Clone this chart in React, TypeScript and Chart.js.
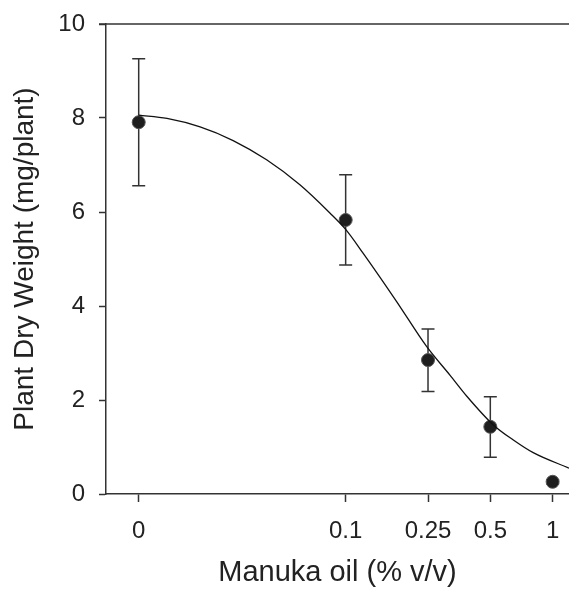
import React, { useEffect, useRef } from "react";
import { Chart, registerables } from "chart.js";

Chart.register(...registerables);

// Tick positions on the log axis ("0" is drawn at 0.01) and their labels
const xTickValues = [0.01, 0.1, 0.25, 0.5, 1];
const xTickLabels = ["0", "0.1", "0.25", "0.5", "1"];

// Measured points (Manuka oil dose, mean dry weight, error bar ends)
const doseX = [0.01, 0.1, 0.25, 0.5, 1];
const meanWeight = [7.91, 5.83, 2.85, 1.43, 0.26];
const errUpper = [9.26, 6.79, 3.51, 2.07, 0.3];
const errLower = [6.56, 4.87, 2.18, 0.78, 0.22];

// Fitted curve
const fitX = [0.01, 0.0137, 0.0198, 0.0286, 0.0415, 0.0601, 0.0839, 0.1, 0.1216, 0.176, 0.246, 0.319, 0.385, 0.517, 0.646, 0.806, 1.2];
const fitY = [8.06, 7.99, 7.81, 7.52, 7.11, 6.58, 5.98, 5.63, 5.12, 4.1, 3.14, 2.53, 2.08, 1.47, 1.15, 0.88, 0.55];

const yTicks = [0, 2, 4, 6, 8, 10];

const FONT = "'Liberation Sans', Arial, Helvetica, sans-serif";
const AXIS = "#333333";
const TEXT = "#222222";

const extrasPlugin = {
  id: "extras",
  beforeDatasetsDraw(chart: any) {
    const { ctx, chartArea, scales } = chart;
    const xs = scales.x;
    const ys = scales.y;
    ctx.save();
    // top border
    ctx.strokeStyle = AXIS;
    ctx.lineWidth = 1.5;
    ctx.beginPath();
    ctx.moveTo(chartArea.left - 7, chartArea.top);
    ctx.lineTo(chartArea.right, chartArea.top);
    ctx.stroke();
    // error bars
    ctx.strokeStyle = "#333333";
    ctx.lineWidth = 1.5;
    const cap = 6.5;
    for (let i = 0; i < doseX.length; i++) {
      const px = xs.getPixelForValue(doseX[i]);
      const pTop = ys.getPixelForValue(errUpper[i]);
      const pBot = ys.getPixelForValue(errLower[i]);
      ctx.beginPath();
      ctx.moveTo(px, pTop);
      ctx.lineTo(px, pBot);
      ctx.moveTo(px - cap, pTop);
      ctx.lineTo(px + cap, pTop);
      ctx.moveTo(px - cap, pBot);
      ctx.lineTo(px + cap, pBot);
      ctx.stroke();
    }
    ctx.restore();
  },
};

function zeroPad(scale: any) {
  scale.paddingTop = 0;
  scale.paddingBottom = 0;
  scale.paddingLeft = 0;
  scale.paddingRight = 0;
}

export default function App() {
  const ref = useRef<HTMLCanvasElement | null>(null);

  useEffect(() => {
    if (!ref.current) return;
    const chart = new Chart(ref.current, {
      type: "line",
      data: {
        datasets: [
          {
            label: "fit",
            data: fitX.map((x, i) => ({ x, y: fitY[i] })),
            borderColor: "#111111",
            borderWidth: 1.3,
            pointRadius: 0,
            cubicInterpolationMode: "monotone",
            fill: false,
            clip: 0,
          },
          {
            label: "mean",
            data: doseX.map((x, i) => ({ x, y: meanWeight[i] })),
            showLine: false,
            pointRadius: 6.5,
            pointBackgroundColor: "#1e1e1e",
            pointBorderColor: "#555555",
            pointBorderWidth: 1,
          },
        ],
      },
      options: {
        responsive: false,
        animation: false,
        events: [],
        layout: { autoPadding: false, padding: { top: 24, right: 0, left: 0, bottom: 0 } },
        plugins: {
          legend: { display: false },
          tooltip: { enabled: false },
        },
        scales: {
          x: {
            type: "logarithmic",
            position: "bottom",
            min: 0.00695,
            max: 1.2,
            afterBuildTicks: (scale: any) => {
              scale.ticks = xTickValues.map((v) => ({ value: v }));
            },
            afterFit: (scale: any) => {
              scale.height = 96;
              zeroPad(scale);
            },
            ticks: {
              autoSkip: false,
              maxRotation: 0,
              padding: 15,
              color: TEXT,
              font: { family: FONT, size: 24 },
              callback: (_v: any, i: number) => xTickLabels[i],
            },
            grid: {
              drawOnChartArea: false,
              drawTicks: true,
              tickLength: 8,
              tickWidth: 1.5,
              color: AXIS,
            },
            border: { display: true, color: AXIS, width: 1.5 },
            title: {
              display: true,
              text: "Manuka oil (% v/v)",
              color: TEXT,
              font: { family: FONT, size: 29 },
              padding: { top: 0, bottom: 0 },
            },
          },
          y: {
            type: "linear",
            position: "left",
            min: 0,
            max: 10,
            afterBuildTicks: (scale: any) => {
              scale.ticks = yTicks.map((v) => ({ value: v }));
            },
            afterFit: (scale: any) => {
              scale.width = 106;
              zeroPad(scale);
            },
            ticks: {
              padding: 14,
              color: TEXT,
              font: { family: FONT, size: 24 },
            },
            grid: {
              drawOnChartArea: false,
              drawTicks: true,
              tickLength: 7,
              tickWidth: 1.5,
              color: AXIS,
            },
            border: { display: true, color: AXIS, width: 1.5 },
            title: {
              display: true,
              text: "Plant Dry Weight (mg/plant)",
              color: TEXT,
              font: { family: FONT, size: 28 },
              padding: { top: 8, bottom: 0 },
            },
          },
        },
      },
      plugins: [extrasPlugin],
    } as any);
    return () => chart.destroy();
  }, []);

  return (
    <div style={{ position: "absolute", left: 0, top: 0, width: 569, height: 590, background: "#fff" }}>
      <canvas ref={ref} width={569} height={590} style={{ width: 569, height: 590, display: "block" }} />
    </div>
  );
}
